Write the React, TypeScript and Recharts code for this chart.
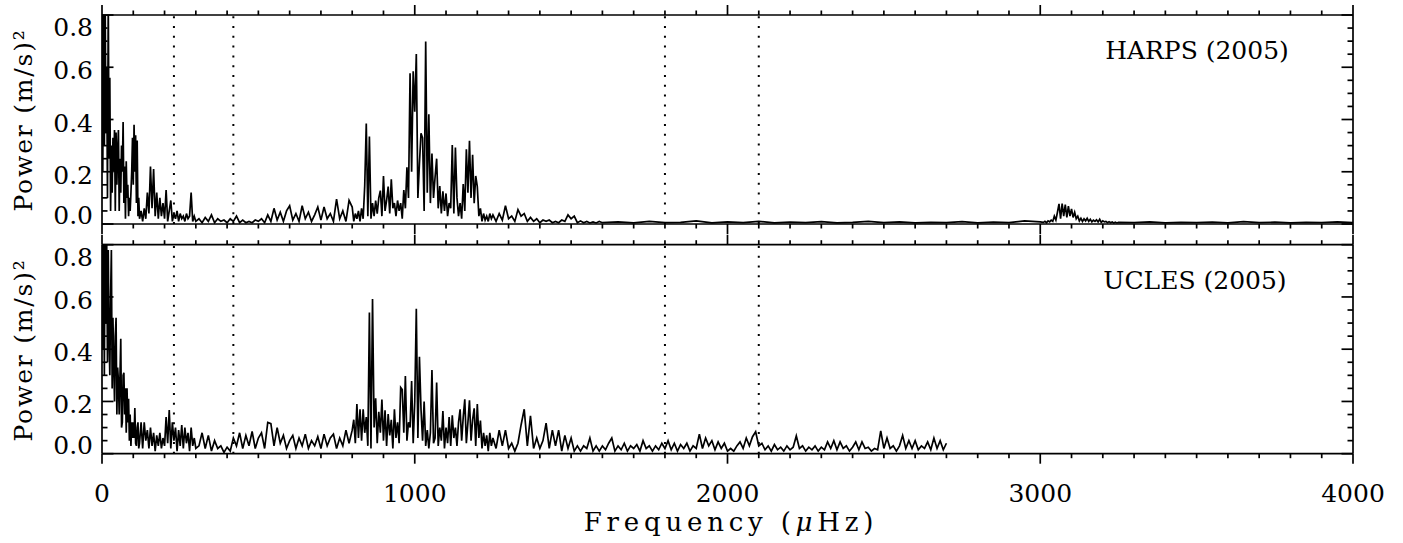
import React from "react"
import { LineChart, Line, XAxis, YAxis, ReferenceLine } from "recharts"

// HARPS (2005) power, (m/s)^2
const harpsA0 = [ // 0–120 µHz, every 2.5
  0.85, 0.2, 0.9, 0.3, 0.88, 0.35, 0.6, 0.1, 0.86, 0.25,
  0.56, 0.05, 0.3, 0.12, 0.33, 0.2, 0.36, 0.05, 0.35, 0.15,
  0.28, 0.36, 0.05, 0.25, 0.12, 0.3, 0.2, 0.39, 0.08, 0.22,
  0.02, 0.24, 0.1, 0.15, 0.03, 0.1, 0.05, 0.12, 0.2, 0.33,
  0.15, 0.38, 0.2, 0.34, 0.08, 0.32, 0.03, 0.1, 0.02,
]
const harpsA = [ // 125–300 µHz, every 5
  0.05, 0.01, 0.06, 0.02, 0.12, 0.04, 0.22, 0.06, 0.21, 0.03,
  0.12, 0.02, 0.1, 0.03, 0.08, 0.02, 0.13, 0.01, 0.05, 0.09,
  0.01, 0.04, 0.02, 0.05, 0.01, 0.04, 0.02, 0.03, 0.01, 0.04,
  0.02, 0.03, 0.12, 0.01, 0.03, 0.01,
]
const harpsB = [ // 310–790 µHz, every 10
  0.02, 0.005, 0.025, 0.01, 0.035, 0.005, 0.02, 0.01, 0.015, 0.005,
  0.02, 0.01, 0.03, 0.005, 0.015, 0.005, 0.01, 0.005, 0.015, 0.01,
  0.02, 0.005, 0.035, 0.01, 0.06, 0.015, 0.045, 0.01, 0.05, 0.07,
  0.015, 0.04, 0.01, 0.07, 0.02, 0.045, 0.01, 0.035, 0.065, 0.015,
  0.065, 0.02, 0.04, 0.01, 0.095, 0.02, 0.05, 0.01, 0.09,
]
const harpsC = [ // 800–1250 µHz, every 5
  0.065, 0.01, 0.04, 0.02, 0.05, 0.01, 0.06, 0.02, 0.145, 0.385,
  0.03, 0.335, 0.02, 0.08, 0.03, 0.09, 0.04, 0.1, 0.128, 0.03,
  0.184, 0.05, 0.09, 0.143, 0.04, 0.171, 0.06, 0.08, 0.03, 0.09,
  0.05, 0.08, 0.02, 0.13, 0.06, 0.217, 0.1, 0.577, 0.2, 0.585,
  0.43, 0.651, 0.1, 0.232, 0.347, 0.33, 0.05, 0.699, 0.12, 0.42,
  0.08, 0.27, 0.1, 0.18, 0.25, 0.06, 0.145, 0.04, 0.125, 0.05,
  0.117, 0.03, 0.08, 0.06, 0.302, 0.04, 0.293, 0.1, 0.03, 0.08,
  0.02, 0.153, 0.05, 0.286, 0.12, 0.319, 0.1, 0.265, 0.08, 0.184,
  0.143, 0.03, 0.06, 0.01, 0.04, 0.015, 0.03, 0.01, 0.04, 0.02,
  0.035,
]
const harpsD = [ // 1260–1600 µHz, every 10
  0.01, 0.04, 0.015, 0.07, 0.02, 0.03, 0.01, 0.055, 0.03, 0.04,
  0.01, 0.025, 0.01, 0.02, 0.005, 0.015, 0.01, 0.015, 0.005, 0.01,
  0.005, 0.015, 0.01, 0.035, 0.02, 0.03, 0.005, 0.012, 0.005, 0.01,
  0.004, 0.008, 0.004, 0.01, 0.005,
]
const harpsE = [ // 1650–3000 µHz, every 50
  0.008, 0.004, 0.01, 0.005, 0.006, 0.012, 0.004, 0.008, 0.005, 0.01,
  0.004, 0.007, 0.005, 0.009, 0.004, 0.006, 0.01, 0.005, 0.008, 0.004,
  0.006, 0.005, 0.009, 0.004, 0.007, 0.005, 0.012, 0.008,
]
const harpsF = [ // 3010–3250 µHz, every 5
  0.006, 0.01, 0.005, 0.012, 0.008, 0.015, 0.01, 0.03, 0.015, 0.045,
  0.077, 0.02, 0.078, 0.03, 0.074, 0.025, 0.068, 0.03, 0.058, 0.025,
  0.045, 0.02, 0.03, 0.012, 0.022, 0.01, 0.02, 0.012, 0.022, 0.01,
  0.018, 0.008, 0.015, 0.01, 0.016, 0.008, 0.018, 0.006, 0.012, 0.008,
  0.01, 0.005, 0.009, 0.005, 0.008, 0.004, 0.007, 0.004, 0.006,
]
const harpsG = [ // 3300–4000 µHz, every 50
  0.005, 0.008, 0.004, 0.006, 0.005, 0.007, 0.004, 0.009, 0.005, 0.007,
  0.004, 0.006, 0.005, 0.008, 0.005,
]

// UCLES (2005) power, (m/s)^2
const uclesA0 = [ // 0–120 µHz, every 2.5
  0.85, 0.4, 0.88, 0.3, 0.9, 0.5, 0.82, 0.35, 0.78, 0.45,
  0.3, 0.6, 0.78, 0.25, 0.52, 0.35, 0.2, 0.45, 0.52, 0.15,
  0.33, 0.28, 0.15, 0.3, 0.44, 0.1, 0.12, 0.3, 0.31, 0.15,
  0.25, 0.08, 0.25, 0.12, 0.21, 0.05, 0.15, 0.03, 0.12, 0.06,
  0.12, 0.06, 0.175, 0.04, 0.03, 0.1, 0.12, 0.02, 0.04,
]
const uclesA = [ // 125–300 µHz, every 5
  0.12, 0.02, 0.12, 0.05, 0.09, 0.02, 0.1, 0.03, 0.08, 0.01,
  0.07, 0.03, 0.08, 0.02, 0.06, 0.03, 0.14, 0.04, 0.167, 0.02,
  0.12, 0.05, 0.1, 0.01, 0.09, 0.03, 0.11, 0.02, 0.1, 0.04,
  0.08, 0.01, 0.1, 0.03, 0.06, 0.02,
]
const uclesB = [ // 310–790 µHz, every 10
  0.03, 0.08, 0.02, 0.07, 0.01, 0.05, 0.02, 0.03, 0.005, 0.025,
  0.01, 0.06, 0.03, 0.08, 0.02, 0.07, 0.03, 0.085, 0.02, 0.06,
  0.08, 0.02, 0.12, 0.115, 0.03, 0.1, 0.04, 0.07, 0.02, 0.05,
  0.07, 0.02, 0.06, 0.03, 0.075, 0.02, 0.05, 0.03, 0.065, 0.02,
  0.075, 0.03, 0.06, 0.075, 0.02, 0.06, 0.03, 0.09, 0.04,
]
const uclesC = [ // 800–1250 µHz, every 5
  0.09, 0.13, 0.04, 0.19, 0.06, 0.17, 0.05, 0.17, 0.08, 0.14,
  0.03, 0.54, 0.02, 0.592, 0.1, 0.212, 0.04, 0.16, 0.08, 0.207,
  0.05, 0.166, 0.03, 0.152, 0.07, 0.13, 0.02, 0.17, 0.06, 0.12,
  0.04, 0.254, 0.246, 0.08, 0.297, 0.05, 0.12, 0.1, 0.278, 0.04,
  0.2, 0.555, 0.06, 0.371, 0.17, 0.05, 0.2, 0.03, 0.09, 0.02,
  0.08, 0.32, 0.04, 0.06, 0.272, 0.03, 0.1, 0.05, 0.163, 0.02,
  0.1, 0.04, 0.14, 0.03, 0.147, 0.06, 0.1, 0.03, 0.12, 0.17,
  0.05, 0.14, 0.208, 0.04, 0.12, 0.204, 0.05, 0.13, 0.174, 0.03,
  0.19, 0.06, 0.127, 0.02, 0.08, 0.03, 0.07, 0.01, 0.08, 0.03,
  0.06,
]
const uclesD = [ // 1260–2700 µHz, every 10
  0.02, 0.09, 0.03, 0.09, 0.02,
  0.04, 0.01, 0.04, 0.11, 0.17, 0.03, 0.145, 0.02, 0.06, 0.02,
  0.05, 0.117, 0.02, 0.09, 0.03, 0.09, 0.01, 0.07, 0.02, 0.06,
  0.01, 0.03, 0.01, 0.03, 0.02, 0.06, 0.01, 0.03, 0.01, 0.03,
  0.015, 0.04, 0.06, 0.01, 0.03, 0.015, 0.04, 0.01, 0.03, 0.02,
  0.035, 0.01, 0.05, 0.02, 0.03, 0.01, 0.03, 0.015, 0.04, 0.02,
  0.05, 0.015, 0.04, 0.01, 0.035, 0.02, 0.04, 0.01, 0.03, 0.02,
  0.075, 0.02, 0.06, 0.03, 0.05, 0.015, 0.045, 0.02, 0.04, 0.01,
  0.02, 0.01, 0.03, 0.045, 0.02, 0.06, 0.03, 0.065, 0.084, 0.03,
  0.04, 0.015, 0.03, 0.01, 0.035, 0.015, 0.025, 0.01, 0.03, 0.015,
  0.025, 0.068, 0.02, 0.03, 0.01, 0.025, 0.015, 0.03, 0.01, 0.025,
  0.015, 0.045, 0.02, 0.05, 0.015, 0.045, 0.02, 0.03, 0.01, 0.025,
  0.045, 0.015, 0.045, 0.02, 0.025, 0.01, 0.02, 0.015, 0.087, 0.02,
  0.06, 0.02, 0.03, 0.01, 0.03, 0.07, 0.02, 0.05, 0.02, 0.05,
  0.015, 0.03, 0.02, 0.045, 0.015, 0.06, 0.02, 0.05, 0.015, 0.04,
]

// dotted reference frequencies (µHz)
const dottedFreqs = [230, 420, 1800, 2100]

const xTicks = [
  0, 100, 200, 300, 400, 500, 600, 700, 800, 900,
  1000, 1100, 1200, 1300, 1400, 1500, 1600, 1700, 1800, 1900,
  2000, 2100, 2200, 2300, 2400, 2500, 2600, 2700, 2800, 2900,
  3000, 3100, 3200, 3300, 3400, 3500, 3600, 3700, 3800, 3900,
  4000,
]
const xLabelTicks = [0, 1000, 2000, 3000, 4000]
const yTicks = [0, 0.05, 0.1, 0.15, 0.2, 0.25, 0.3, 0.35, 0.4, 0.45, 0.5, 0.55, 0.6, 0.65, 0.7, 0.75, 0.8]
const yLabelTicks = [0, 0.2, 0.4, 0.6, 0.8]

const seg = (start: number, step: number, vals: number[]) =>
  vals.map((p, i) => ({ f: start + i * step, p }))

const harpsData = [
  ...seg(0, 2.5, harpsA0),
  ...seg(125, 5, harpsA),
  ...seg(310, 10, harpsB),
  ...seg(800, 5, harpsC),
  ...seg(1260, 10, harpsD),
  ...seg(1650, 50, harpsE),
  ...seg(3010, 5, harpsF),
  ...seg(3300, 50, harpsG),
]
const uclesData = [
  ...seg(0, 2.5, uclesA0),
  ...seg(125, 5, uclesA),
  ...seg(310, 10, uclesB),
  ...seg(800, 5, uclesC),
  ...seg(1260, 10, uclesD),
]

const FONT = "'DejaVu Serif', serif"
const FS = 25
const AX = 1.7
const PLOT_LEFT = 102

// plot box is 1251 x 209 px for 4000 µHz x 0.8 (m/s)^2
const PX_X = 1251 / 4000
const PX_Y = 209 / 0.8

// tick marks as short segments in data units: x ticks point out, y ticks in
const isMajorY = (v: number) => Math.abs(v * 5 - Math.round(v * 5)) < 1e-6
const tickSegs = [
  ...xTicks.flatMap((t) => {
    const d = (t % 1000 === 0 ? 10 : 4.5) / PX_Y
    return [
      [{ x: t, y: 0 }, { x: t, y: -d }],
      [{ x: t, y: 0.8 }, { x: t, y: 0.8 + d }],
    ]
  }),
  ...yTicks.flatMap((v) => {
    const d = (isMajorY(v) ? 11.5 : 5.5) / PX_X
    return [
      [{ x: 0, y: v }, { x: d, y: v }],
      [{ x: 4000, y: v }, { x: 4000 - d, y: v }],
    ]
  }),
]

function XLabel(props: any) {
  const { x, y, payload } = props
  return (
    <text x={x} y={y + 48} textAnchor="middle" fontFamily={FONT} fontSize={FS} fill="#000">
      {payload.value}
    </text>
  )
}

function YLabel(props: any) {
  const { y, payload } = props
  const v = payload.value
  // labels sit a little inside the end ticks, as in the original
  const shift = v > 0.79 ? 12 : v < 0.01 ? -9 : 3
  return (
    <text x={PLOT_LEFT - 9} y={y + shift + 9} textAnchor="end" fontFamily={FONT} fontSize={FS} fill="#000">
      {v.toFixed(1)}
    </text>
  )
}

function Panel({ data, top, height, marginTop, marginBottom, labels }: any) {
  return (
    <div style={{ position: "absolute", left: 0, top }}>
      <LineChart
        width={1403}
        height={height}
        data={data}
        margin={{ top: marginTop, right: 50, bottom: marginBottom - 1, left: PLOT_LEFT - 1 }}
      >
        <XAxis
          dataKey="f"
          type="number"
          domain={[0, 4000]}
          ticks={labels ? xLabelTicks : xTicks}
          interval={0}
          height={1}
          tickSize={0}
          tickMargin={0}
          tickLine={false}
          allowDataOverflow
          axisLine={{ stroke: "#000", strokeWidth: AX }}
          tick={labels ? (p: any) => <XLabel {...p} /> : false}
        />
        <YAxis
          type="number"
          domain={[0, 0.8]}
          ticks={yLabelTicks}
          interval={0}
          width={1}
          tickSize={0}
          tickMargin={0}
          tickLine={false}
          allowDataOverflow
          axisLine={{ stroke: "#000", strokeWidth: AX }}
          tick={(p: any) => <YLabel {...p} />}
        />
        <ReferenceLine y={0.8} stroke="#000" strokeWidth={AX} ifOverflow="visible" />
        <ReferenceLine x={4000} stroke="#000" strokeWidth={AX} ifOverflow="visible" />
        {tickSegs.map((s, i) => (
          <ReferenceLine key={"t" + i} segment={s} stroke="#000" strokeWidth={AX} ifOverflow="visible" />
        ))}
        {dottedFreqs.map((f) => (
          <ReferenceLine key={f} x={f} stroke="#000" strokeWidth={2} strokeDasharray="2 7.8" />
        ))}
        <Line
          dataKey="p"
          type="linear"
          stroke="#000"
          strokeWidth={1.7}
          dot={false}
          isAnimationActive={false}
        />
      </LineChart>
    </div>
  )
}

export default function App() {
  return (
    <div style={{ position: "absolute", left: 0, top: 0, width: 1403, height: 543, background: "#fff" }}>
      <Panel data={harpsData} top={0} height={240} marginTop={15} marginBottom={16} labels={false} />
      <Panel data={uclesData} top={230} height={313} marginTop={14.7} marginBottom={89.3} labels />
      <svg
        width={1403}
        height={543}
        style={{ position: "absolute", left: 0, top: 0, pointerEvents: "none" }}
        fontFamily={FONT}
        fontSize={FS}
      >
        <text x={1197} y={59} textAnchor="middle">HARPS (2005)</text>
        <text x={1195} y={289} textAnchor="middle">UCLES (2005)</text>
        <text x={32} y={120} textAnchor="middle" transform="rotate(-90 32 120)" letterSpacing={1.8}>
          Power (m/s)²
        </text>
        <text x={32} y={350} textAnchor="middle" transform="rotate(-90 32 350)" letterSpacing={1.8}>
          Power (m/s)²
        </text>
        <text x={731} y={531} textAnchor="middle" fontSize={26} letterSpacing={4.8}>
          Frequency (<tspan fontStyle="italic">μ</tspan>Hz)
        </text>
      </svg>
    </div>
  )
}
